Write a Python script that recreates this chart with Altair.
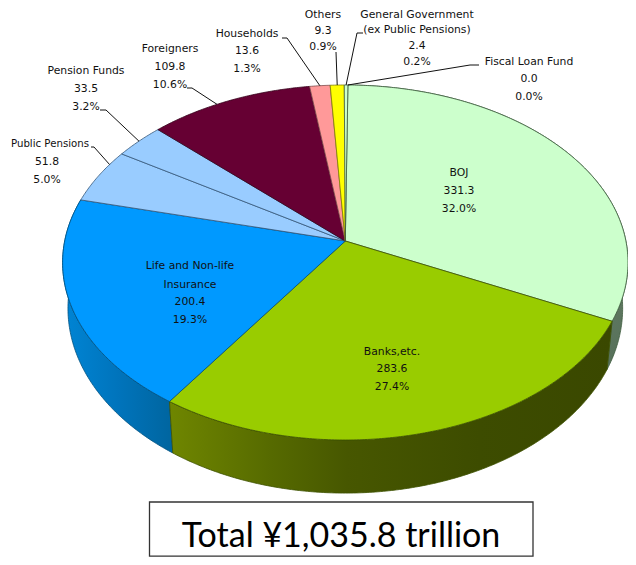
import math
import altair as alt
import pandas as pd

# ---- chart values (trillion yen) ----
names = ["BOJ", "Banks,etc.", "Life and Non-life Insurance", "Public Pensions", "Pension Funds",
         "Foreigners", "Households", "Others", "General Government", "Fiscal Loan Fund"]
values = [331.3, 283.6, 200.4, 51.8, 33.5, 109.8, 13.6, 9.3, 2.4, 0.0]
shares = ["32.0%", "27.4%", "19.3%", "5.0%", "3.2%", "10.6%", "1.3%", "0.9%", "0.2%", "0.0%"]
total_label = "Total \u00a51,035.8 trillion"

# ---- styles ----
top_colors = ["#ccffcc", "#99cc00", "#0099ff", "#99ccff", "#99ccff", "#660033", "#ff9999", "#ffff00", "#ccffcc", "#ccffcc"]
edge_colors = ["#3d5c3d", "#3d5200", "#00507f", "#335577", "#335577", "#330019", "#7f4c4c", "#7f7f00", "#3d5c3d", "#3d5c3d"]
side_stops = {
    0: [("#8aa88f", 0), ("#566f58", 1)],
    1: [("#6f8600", 0), ("#566a00", 0.23), ("#475700", 0.4), ("#3d4c00", 0.7), ("#3a4800", 1)],
    2: [("#0085d5", 0), ("#0074bc", 0.5), ("#00659f", 1)],
}

# ---- projection of the tilted disc (page pixels) ----
CX, CY, A, B, K = 345.3, 241, 280.6, 174.9, 0.1211
A2, Y2, B2 = 275.3, 286, 182
ROT = 0.6
FONT = "DejaVu Sans"
FS = 10.8

def rim(deg):
    t = math.radians(deg)
    u, v = math.sin(t), math.cos(t)
    d = 1 + K * v
    return CX + A * u / d, CY - B * v / d

def low(deg):
    t = math.radians(deg)
    u, v = math.sin(t), math.cos(t)
    d = 1 + K * v
    return CX + A2 * u / d, Y2 - B2 * v / d

tot = sum(values)
edges = [ROT]
for val in values:
    edges.append(edges[-1] + 360 * val / tot)

def arc(a0, a1):
    n = max(2, int((a1 - a0) / 0.5) + 2)
    return [a0 + (a1 - a0) * i / (n - 1) for i in range(n)]

X = alt.Scale(domain=[8, 628], range=[0, 620])
Y = alt.Scale(domain=[8, 557], range=[0, 549])

def poly(points, fill, stroke, sw=0.8):
    df = pd.DataFrame({"x": [p[0] for p in points], "y": [p[1] for p in points], "i": list(range(len(points)))})
    return alt.Chart(df).mark_line(interpolate="linear-closed", fill=fill, stroke=stroke, strokeWidth=sw).encode(
        x=alt.X("x:Q", scale=X, axis=None),
        y=alt.Y("y:Q", scale=Y, axis=None),
        order="i:Q",
    )

layers = []
# sides
for idx in [0, 2, 1]:
    angs = arc(edges[idx], edges[idx + 1])
    pts = [rim(a) for a in angs] + [low(a) for a in reversed(angs)]
    grad = alt.Gradient(gradient="linear", x1=0, x2=1, y1=0, y2=0 if idx else 1,
                        stops=[alt.GradientStop(color=c, offset=o) for c, o in side_stops[idx]])
    layers.append(poly(pts, grad, edge_colors[idx]))
# top slices
for idx in range(len(values)):
    if values[idx] <= 0:
        continue
    pts = [(CX, CY)] + [rim(a) for a in arc(edges[idx], edges[idx + 1])]
    layers.append(poly(pts, top_colors[idx], edge_colors[idx]))

# leader lines: elbows are annotation layout, last point sits on the rim
leaders = [
    (3, [(91, 147), (94, 147)]),
    (4, [(100, 110), (106, 110)]),
    (5, [(187, 88), (192, 88)]),
    (6, [(282, 38), (287, 38)]),
    (7, [(336, 52)]),
    (8, [(363, 33), (357, 33)]),
    (9, [(479, 65), (470, 65)]),
]
leader_ends = {3: 0.75, 4: 0.5, 5: 0.42, 6: 0.5, 7: 0.5, 8: 0.5, 9: 0.5}
rows = []
for idx, pts in leaders:
    a = edges[idx] + (edges[idx + 1] - edges[idx]) * leader_ends[idx]
    for j, p in enumerate(pts + [rim(a)]):
        rows.append({"k": idx, "j": j, "x": p[0], "y": p[1]})
layers.append(alt.Chart(pd.DataFrame(rows)).mark_line(color="#111111", strokeWidth=1).encode(
    x=alt.X("x:Q", scale=X, axis=None), y=alt.Y("y:Q", scale=Y, axis=None),
    detail="k:N", order="j:Q"))

# labels
def fmt(i):
    return f"{values[i]:.1f}"

labels = [
    (459, 173, "BOJ"), (459, 191, fmt(0)), (459, 209, shares[0]),
    (392, 352, "Banks,etc."), (392, 369, fmt(1)), (392, 387, shares[1]),
    (190, 266, "Life and Non-life"), (190, 285, "Insurance"), (190, 302, fmt(2)), (190, 320, shares[2]),
    (47, 162, fmt(3)), (47, 180, shares[3]),
    (86, 71, "Pension Funds"), (86, 89, fmt(4)), (86, 107, shares[4]),
    (170, 48.5, "Foreigners"), (170, 67, fmt(5)), (170, 85, shares[5]),
    (247, 33.5, "Households"), (247, 51, fmt(6)), (247, 69, shares[6]),
    (323, 15, "Others"), (323, 30.5, fmt(7)), (323, 47, shares[7]),
    (417, 15, "General Government"), (417, 30, "(ex Public Pensions)"), (417, 46, fmt(8)), (417, 62, shares[8]),
    (529, 62, "Fiscal Loan Fund"), (529, 79, fmt(9)), (529, 97, shares[9]),
]
ldf = pd.DataFrame(labels, columns=["x", "y", "t"])
layers.append(alt.Chart(ldf).mark_text(font=FONT, fontSize=FS, color="#111111", baseline="middle", align="center").encode(
    x=alt.X("x:Q", scale=X, axis=None), y=alt.Y("y:Q", scale=Y, axis=None), text="t:N"))
# the page margin leaves this one label a little less room, so it is set slightly smaller
edge_df = pd.DataFrame([{"x": 50, "y": 144, "t": names[3]}])
layers.append(alt.Chart(edge_df).mark_text(font=FONT, fontSize=10.2, color="#111111", baseline="middle", align="center").encode(
    x=alt.X("x:Q", scale=X, axis=None), y=alt.Y("y:Q", scale=Y, axis=None), text="t:N"))

# total box
box = pd.DataFrame([{"x": 149.5, "x2": 533, "y": 502, "y2": 556.2}])
layers.append(alt.Chart(box).mark_rect(fill="white", stroke="#333333", strokeWidth=1.3).encode(
    x=alt.X("x:Q", scale=X, axis=None), x2="x2:Q",
    y=alt.Y("y:Q", scale=Y, axis=None), y2="y2:Q"))
tdf = pd.DataFrame([{"x": 341, "y": 547, "t": total_label}])
layers.append(alt.Chart(tdf).mark_text(font="Lato", fontSize=34, color="#000000", baseline="alphabetic", align="center").encode(
    x=alt.X("x:Q", scale=X, axis=None), y=alt.Y("y:Q", scale=Y, axis=None), text="t:N"))

chart = alt.layer(*layers).properties(
    width=620, height=549,
    padding=0,
    autosize=alt.AutoSizeParams(type="none"),
    background="white",
).configure_view(stroke=None)

chart.save("out.html", embed_options={"renderer": "svg", "actions": False})
